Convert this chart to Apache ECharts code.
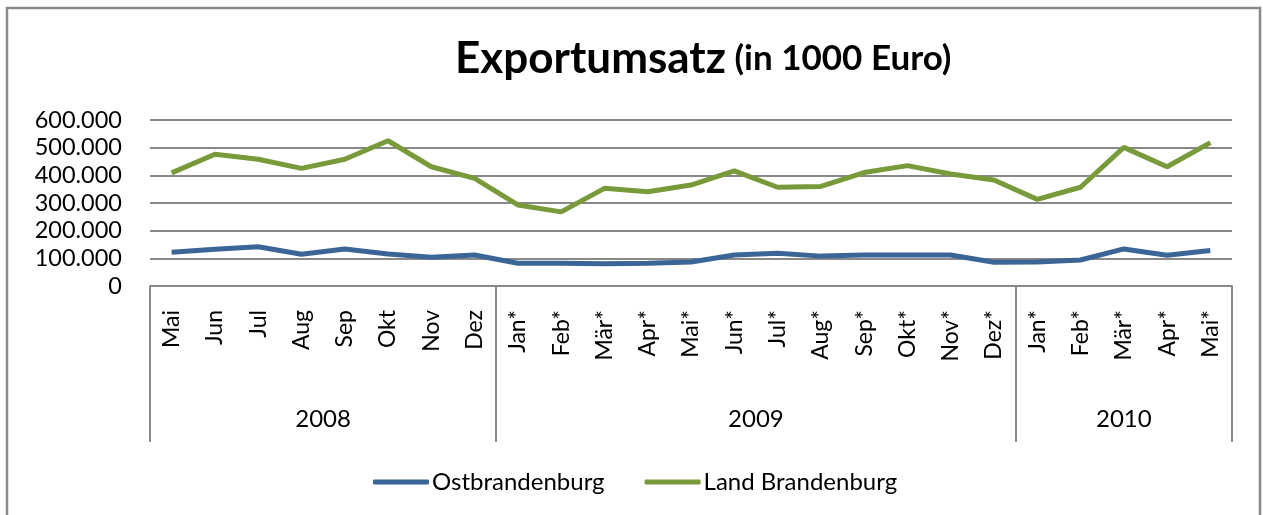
<!DOCTYPE html>
<html>
<head>
<meta charset="utf-8">
<script src="https://cdn.jsdelivr.net/npm/echarts@6/dist/echarts.min.js"></script>
<style>
  html, body { margin: 0; padding: 0; background: #fff; }
  #chart { width: 1263px; height: 515px; }
</style>
</head>
<body>
<div id="chart"></div>
<script>
// Monate (mit * = vorläufige Werte)
var months = ['Mai', 'Jun', 'Jul', 'Aug', 'Sep', 'Okt', 'Nov', 'Dez',
  'Jan*', 'Feb*', 'Mär*', 'Apr*', 'Mai*', 'Jun*', 'Jul*', 'Aug*', 'Sep*', 'Okt*', 'Nov*', 'Dez*',
  'Jan*', 'Feb*', 'Mär*', 'Apr*', 'Mai*']
var years = ['2008', '2009', '2010']
var yearSpans = [8, 12, 5]
var yTicks = [0, 100000, 200000, 300000, 400000, 500000, 600000]

var ostbrandenburg = [122000, 133000, 142000, 115000, 134000, 116000, 104000, 112000,
  82000, 82000, 80000, 82000, 87000, 112000, 118000, 108000, 112000, 112000, 112000, 86000,
  87000, 94000, 134000, 111000, 128000]
var landBrandenburg = [409000, 476000, 458000, 425000, 458000, 525000, 431000, 389000,
  293000, 268000, 353000, 341000, 365000, 416000, 357000, 360000, 410000, 435000, 405000, 383000,
  313000, 357000, 501000, 431000, 518000]

// Gruppengrenzen und -mitten fuer die Jahresachse
var bounds = [0]
var centers = []
yearSpans.forEach(function (n) {
  var start = bounds[bounds.length - 1]
  centers.push(start + n / 2)
  bounds.push(start + n)
})

function fmt (v) {
  return String(v).replace(/\B(?=(\d{3})+(?!\d))/g, '.')
}

var font = 'Lato, "Open Sans", sans-serif'
var gray = '#898989'

var chart = echarts.init(document.getElementById('chart'))
var option = {
  backgroundColor: '#fff',
  textStyle: { fontFamily: font },
  animation: false,
  title: {
    text: '{a|Exportumsatz}{b| (in 1000 Euro)}',
    left: 450,
    top: 32,
    textStyle: {
      rich: {
        a: { fontFamily: font, fontWeight: 'bold', fontSize: 44, color: '#000' },
        b: { fontFamily: font, fontWeight: 'bold', fontSize: 35, color: '#000' }
      }
    }
  },
  legend: {
    left: 368,
    top: 465,
    icon: 'roundRect',
    itemWidth: 56,
    itemHeight: 5,
    itemGap: 40,
    textStyle: { fontFamily: font, fontSize: 24, color: '#000', padding: [0, 0, 0, -2] },
    data: ['Ostbrandenburg', 'Land Brandenburg']
  },
  grid: {
    left: 150,
    right: 31,
    top: 120,
    bottom: 229
  },
  xAxis: [
    {
      type: 'category',
      data: months,
      boundaryGap: true,
      axisLine: { lineStyle: { color: gray, width: 2 } },
      axisTick: { show: false },
      axisLabel: {
        rotate: 90,
        interval: 0,
        margin: 24,
        fontSize: 23,
        color: '#000',
        fontFamily: font
      }
    },
    {
      type: 'value',
      position: 'bottom',
      min: 0,
      max: months.length,
      axisLine: { show: false },
      splitLine: { show: false },
      axisTick: {
        show: true,
        customValues: bounds,
        length: 156,
        lineStyle: { color: gray, width: 2 }
      },
      axisLabel: {
        customValues: centers,
        margin: 121,
        fontSize: 24,
        color: '#000',
        fontFamily: font,
        formatter: function (v) {
          return years[centers.indexOf(v)]
        }
      }
    }
  ],
  yAxis: {
    type: 'value',
    min: yTicks[0],
    max: yTicks[yTicks.length - 1],
    interval: yTicks[1] - yTicks[0],
    axisLine: { show: false },
    axisTick: { show: false },
    splitLine: { lineStyle: { color: gray, width: 2 } },
    axisLabel: {
      margin: 28,
      fontSize: 23.5,
      color: '#000',
      fontFamily: font,
      formatter: fmt
    }
  },
  series: [
    {
      name: 'Ostbrandenburg',
      type: 'line',
      xAxisIndex: 0,
      symbol: 'none',
      color: '#3b6597',
      lineStyle: { width: 5, color: '#3b6597' },
      data: ostbrandenburg
    },
    {
      name: 'Land Brandenburg',
      type: 'line',
      xAxisIndex: 0,
      symbol: 'none',
      color: '#789a3b',
      lineStyle: { width: 5, color: '#789a3b' },
      data: landBrandenburg
    }
  ],
  graphic: [
    {
      type: 'rect',
      silent: true,
      shape: { x: 7, y: 8, width: 1253, height: 600 },
      style: { fill: 'none', stroke: '#8a8a8a', lineWidth: 2.5 }
    }
  ]
}
chart.setOption(option)
</script>
</body>
</html>
